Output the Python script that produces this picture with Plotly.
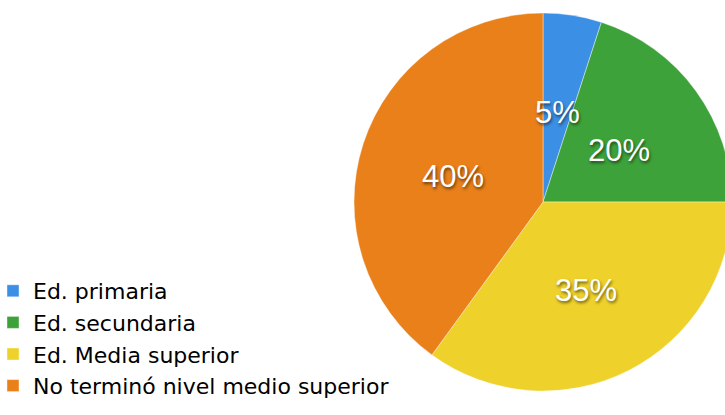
import math
import plotly.graph_objects as go

categories = ["Ed. primaria", "Ed. secundaria", "Ed. Media superior", "No terminó nivel medio superior"]
values = [5, 20, 35, 40]
colors = ["#3b8fe4", "#3ea23a", "#eed22b", "#e98019"]

W, H = 740, 415
# pie domain in pixels
px0, px1 = 354, 732
py0, py1 = 13, 391
dom_x = [px0 / W, px1 / W]
dom_y = [(H - py1) / H, (H - py0) / H]

fig = go.Figure()
fig.add_trace(go.Pie(
    labels=categories, values=values, sort=False, direction="clockwise", rotation=0,
    marker=dict(colors=colors, line=dict(color="rgba(255,255,255,0.5)", width=0.8)),
    textinfo="none", hoverinfo="label+percent",
    domain=dict(x=dom_x, y=dom_y),
))

# percentage labels at half radius on each slice's mid-angle
total = sum(values)
cx = (px0 + px1) / 2
cy = (py0 + py1) / 2
R = (px1 - px0) / 2
cum = 0
for v in values:
    mid = (cum + v / 2) / total * 2 * math.pi
    cum += v
    x = cx + 0.5 * R * math.sin(mid)
    y = cy - 0.5 * R * math.cos(mid)
    fig.add_annotation(
        x=x / W, y=(H - y) / H, xref="paper", yref="paper", showarrow=False,
        text=f"{round(v / total * 100)}%", yshift=-4,
        font=dict(family="Liberation Sans, Arial", size=31, color="white",
                  shadow="1px 2px 3px rgba(0,0,0,0.55)"),
        xanchor="center", yanchor="middle",
    )

fig.update_layout(
    width=W, height=H, margin=dict(l=0, r=0, t=0, b=0, autoexpand=False),
    paper_bgcolor="white", plot_bgcolor="white",
    showlegend=True,
    legend=dict(x=-7 / W, y=8 / H, xanchor="left", yanchor="bottom",
                font=dict(family="DejaVu Sans", size=22, color="black"),
                bgcolor="rgba(0,0,0,0)", itemclick=False),
)

fig.write_html("out.html", config={"displayModeBar": False},
               post_script="document.body.style.margin='0';document.body.style.overflow='hidden';")
